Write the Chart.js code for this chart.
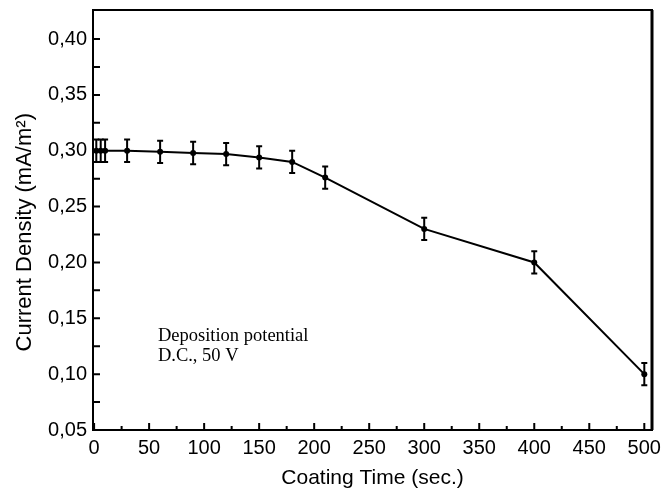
<!DOCTYPE html>
<html>
<head>
<meta charset="utf-8">
<script src="https://cdn.jsdelivr.net/npm/chart.js@4.4.1/dist/chart.umd.min.js"></script>
<style>
  html, body { margin: 0; padding: 0; background: #fff; }
  #wrap { width: 667px; height: 491px; }
</style>
</head>
<body>
<div id="wrap"><canvas id="currentChart" width="667" height="491"></canvas></div>
<script>
// Coating time (sec.) and current density (mA/m2)
const coatingTimes = [2, 6, 10, 30, 60, 90, 120, 150, 180, 210, 300, 400, 500];
const currentDensity = [0.300, 0.300, 0.300, 0.300, 0.299, 0.298, 0.297, 0.294, 0.290, 0.276, 0.230, 0.200, 0.100];
const errorBars = [0.010, 0.010, 0.010, 0.010, 0.010, 0.010, 0.010, 0.010, 0.010, 0.010, 0.010, 0.010, 0.010];

// Axis ticks
const xTicks = [0, 50, 100, 150, 200, 250, 300, 350, 400, 450, 500];
const xMinorTicks = [25, 75, 125, 175, 225, 275, 325, 375, 425, 475];
const yTicks = [0.05, 0.10, 0.15, 0.20, 0.25, 0.30, 0.35, 0.40];
const yTickLabels = ['0,05', '0,10', '0,15', '0,20', '0,25', '0,30', '0,35', '0,40'];
const yMinorTicks = [0.075, 0.125, 0.175, 0.225, 0.275, 0.325, 0.375];

const noteLines = ['Deposition potential', 'D.C., 50 V'];

Chart.defaults.font.family = "'Liberation Sans', Arial, sans-serif";
Chart.defaults.color = '#000';

// error bars, inward tick marks, plot frame and the note
const figureExtras = {
    id: 'figureExtras',
    afterDatasetsDraw(chart) {
        const ctx = chart.ctx;
        const xs = chart.scales.x, ys = chart.scales.y;
        const area = chart.chartArea;
        ctx.save();
        ctx.strokeStyle = '#000';

        // error bars
        ctx.lineWidth = 2;
        coatingTimes.forEach((t, i) => {
            const px = xs.getPixelForValue(t);
            const top = ys.getPixelForValue(currentDensity[i] + errorBars[i]);
            const bot = ys.getPixelForValue(currentDensity[i] - errorBars[i]);
            ctx.beginPath();
            ctx.moveTo(px, top); ctx.lineTo(px, bot);
            ctx.moveTo(px - 3, top); ctx.lineTo(px + 3, top);
            ctx.moveTo(px - 3, bot); ctx.lineTo(px + 3, bot);
            ctx.stroke();
        });

        // tick marks pointing inward
        ctx.lineWidth = 2;
        ctx.beginPath();
        xTicks.forEach(v => {
            const px = xs.getPixelForValue(v);
            ctx.moveTo(px, area.bottom); ctx.lineTo(px, area.bottom - 7);
        });
        xMinorTicks.forEach(v => {
            const px = xs.getPixelForValue(v);
            ctx.moveTo(px, area.bottom); ctx.lineTo(px, area.bottom - 4);
        });
        yTicks.concat(yMinorTicks).forEach(v => {
            const py = ys.getPixelForValue(v);
            ctx.moveTo(area.left, py); ctx.lineTo(area.left + 7, py);
        });
        ctx.stroke();

        // frame
        ctx.lineWidth = 2;
        ctx.strokeRect(area.left, area.top, area.right - area.left, area.bottom - area.top);
        ctx.lineWidth = 3;
        ctx.beginPath();
        ctx.moveTo(area.right, area.top); ctx.lineTo(area.right, area.bottom);
        ctx.stroke();

        // note
        ctx.fillStyle = '#000';
        ctx.font = "18.5px 'Liberation Serif', 'Times New Roman', serif";
        ctx.textAlign = 'left';
        ctx.textBaseline = 'alphabetic';
        ctx.fillText(noteLines[0], xs.getPixelForValue(58), ys.getPixelForValue(0.1297));
        ctx.fillText(noteLines[1], xs.getPixelForValue(58), ys.getPixelForValue(0.1118));
        ctx.restore();
    }
};

const ctx = document.getElementById('currentChart').getContext('2d');
const currentChart = new Chart(ctx, {
    type: 'line',
    data: {
        datasets: [{
            label: 'Current Density',
            data: coatingTimes.map((t, i) => ({ x: t, y: currentDensity[i] })),
            borderColor: '#000',
            backgroundColor: '#000',
            borderWidth: 2,
            pointRadius: 3,
            pointBackgroundColor: '#000',
            pointBorderWidth: 0,
            tension: 0
        }]
    },
    options: {
        responsive: false,
        animation: false,
        layout: { padding: { top: 10, right: 15, left: 0, bottom: 0 } },
        plugins: {
            legend: { display: false },
            tooltip: { enabled: false }
        },
        scales: {
            x: {
                type: 'linear',
                min: -1,
                max: 507,
                afterBuildTicks: scale => { scale.ticks = xTicks.map(v => ({ value: v })); },
                afterFit: scale => {
                    scale.height = 61;
                    scale.paddingLeft = 0;
                    scale.paddingRight = 0;
                },
                grid: { display: false, drawTicks: false },
                border: { display: false },
                ticks: {
                    padding: 6,
                    maxRotation: 0,
                    autoSkip: false,
                    font: { size: 20 },
                    color: '#000'
                },
                title: {
                    display: true,
                    text: 'Coating Time (sec.)',
                    font: { size: 21 },
                    color: '#000',
                    padding: { top: 0, bottom: 0 }
                }
            },
            y: {
                type: 'linear',
                min: 0.05,
                max: 0.426,
                afterBuildTicks: scale => { scale.ticks = yTicks.map(v => ({ value: v })); },
                afterFit: scale => {
                    scale.width = 93;
                    scale.paddingTop = 0;
                    scale.paddingBottom = 0;
                },
                grid: { display: false, drawTicks: false },
                border: { display: false },
                ticks: {
                    padding: 6,
                    autoSkip: false,
                    font: { size: 20 },
                    color: '#000',
                    callback: (value, index) => yTickLabels[index]
                },
                title: {
                    display: true,
                    text: 'Current Density (mA/m²)    ',
                    font: { size: 22 },
                    color: '#000',
                    padding: { top: 12, bottom: 0 }
                }
            }
        }
    },
    plugins: [figureExtras]
});
</script>
</body>
</html>
